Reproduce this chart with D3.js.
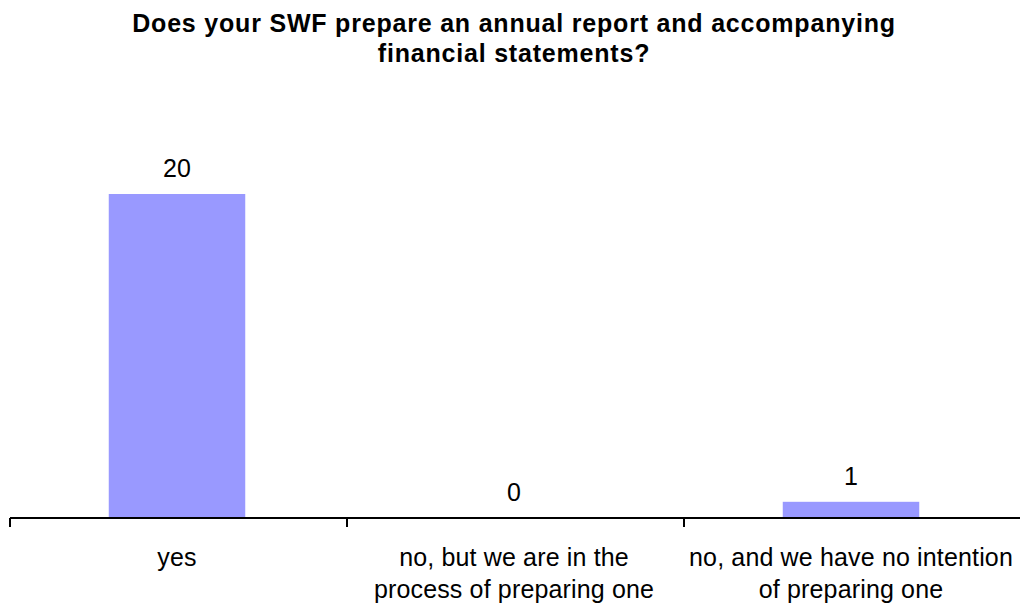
<!DOCTYPE html>
<html>
<head>
<meta charset="utf-8">
<script src="https://cdn.jsdelivr.net/npm/d3@7"></script>
<style>
  body { margin: 0; background: #fff; }
  text { font-family: "Liberation Sans", Arial, sans-serif; fill: #000; }
</style>
</head>
<body>
<div id="chart"></div>
<script>
/************ Data ************/
var categories = [
	["yes"],
	["no, but we are in the", "process of preparing one"],
	["no, and we have no intention", "of preparing one"]
];
var counts = [20, 0, 1];
var titleLines = [
	"Does your SWF prepare an annual report and accompanying",
	"financial statements?"
];

/************ Layout ************/
var width = 1020,
	height = 604,
	baseY = 518,
	barColor = "#9999ff";

var svg = d3.select("#chart").append("svg")
	.attr("width", width)
	.attr("height", height);

var x = d3.scaleBand()
	.domain(d3.range(categories.length))
	.range([10, 1021])
	.padding(0);

var y = d3.scaleLinear()
	.domain([0, 25])
	.range([baseY, baseY - 25 * 16.2]);

var barWidth = x.bandwidth() * 0.405;

// title
svg.append("g").selectAll("text")
	.data(titleLines)
	.enter().append("text")
		.attr("x", 514)
		.attr("y", function(d, i) { return 32 + i * 30; })
		.attr("text-anchor", "middle")
		.attr("font-size", "25px")
		.attr("letter-spacing", "0.8px")
		.attr("font-weight", "bold")
		.text(function(d) { return d; });

// bars
svg.selectAll(".bar")
	.data(counts)
	.enter().append("rect")
		.attr("class", "bar")
		.attr("x", function(d, i) { return x(i) + x.bandwidth() / 2 - barWidth / 2 - 1.5; })
		.attr("y", function(d) { return y(d); })
		.attr("width", barWidth)
		.attr("height", function(d) { return baseY - y(d); })
		.attr("fill", barColor);

// value labels
svg.selectAll(".value")
	.data(counts)
	.enter().append("text")
		.attr("class", "value")
		.attr("x", function(d, i) { return x(i) + x.bandwidth() / 2 - 1.5; })
		.attr("y", function(d) { return y(d) - 17; })
		.attr("text-anchor", "middle")
		.attr("font-size", "25px")
		.text(function(d) { return d; });

// x axis
var axis = svg.append("g")
	.attr("transform", "translate(0," + baseY + ")");
axis.append("line")
	.attr("x1", x.range()[0]).attr("x2", x.range()[1])
	.attr("stroke", "#000").attr("stroke-width", 2);
axis.selectAll(".tick")
	.data(d3.range(categories.length + 1))
	.enter().append("line")
		.attr("class", "tick")
		.attr("x1", function(d) { return x.range()[0] + d * x.step(); })
		.attr("x2", function(d) { return x.range()[0] + d * x.step(); })
		.attr("y1", 0).attr("y2", 9)
		.attr("stroke", "#000").attr("stroke-width", 2);

var labels = axis.selectAll(".cat")
	.data(categories)
	.enter().append("text")
		.attr("class", "cat")
		.attr("text-anchor", "middle")
		.attr("font-size", "25px")
		.attr("letter-spacing", "0.15px")
		.attr("transform", function(d, i) { return "translate(" + (x(i) + x.bandwidth() / 2 - 1.5) + ",0)"; });
labels.selectAll("tspan")
	.data(function(d) { return d; })
	.enter().append("tspan")
		.attr("x", 0)
		.attr("y", function(d, i) { return 48 + i * 32; })
		.text(function(d) { return d; });
</script>
</body>
</html>
